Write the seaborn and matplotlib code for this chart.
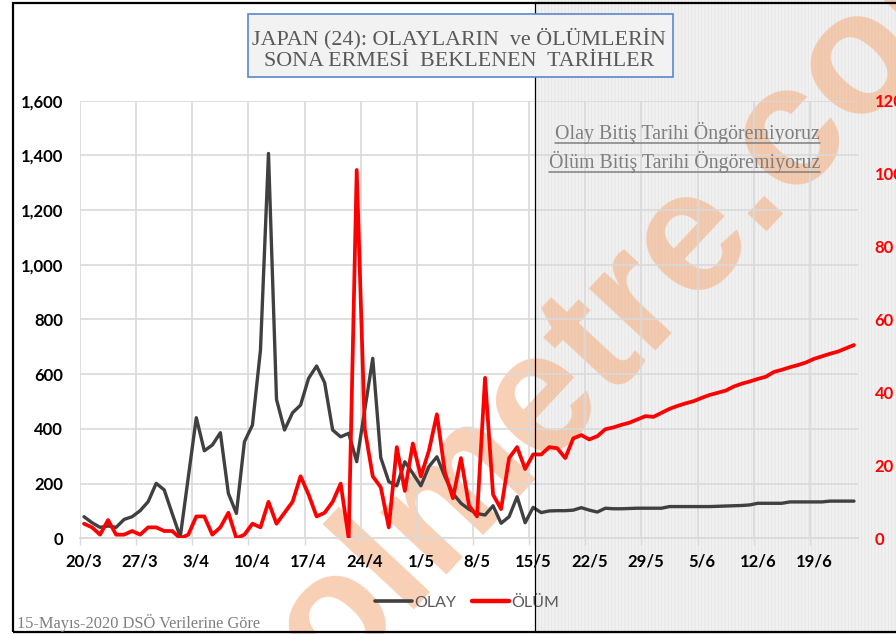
import matplotlib
matplotlib.use("Agg")
import matplotlib.pyplot as plt
import seaborn as sns
import numpy as np
import pandas as pd
from matplotlib.patches import Rectangle
from matplotlib.lines import Line2D

# ---------------- data ----------------
olay = [79, 57, 40, 45, 40, 69, 79, 101, 134, 201,
        177, 90, 5, 223, 441, 320, 341, 386, 164, 91,
        353, 414, 688, 1407, 508, 396, 459, 487, 585, 630,
        569, 396, 371, 384, 280, 469, 658, 295, 207, 192,
        280, 237, 192, 262, 298, 225, 164, 128, 106, 91,
        85, 119, 55, 79, 152, 57, 113, 94, 100, 101,
        101, 103, 112, 103, 96, 110, 108, 108, 109, 110,
        110, 110, 110, 116, 116, 116, 116, 116, 116, 117,
        118, 119, 120, 122, 128, 128, 128, 128, 133, 133,
        133, 133, 133, 136, 136, 136, 136]
olum = [4, 3, 1, 5, 1, 1, 2, 1, 3, 3,
        2, 2, 0, 1, 6, 6, 1, 3, 7, 0,
        1, 4, 3, 10, 4, 7, 10, 17, 12, 6,
        7, 10, 15, 0, 101, 30, 17, 14, 3, 25,
        13, 26, 17, 24, 34, 18, 11, 22, 9, 6,
        44, 12, 8, 22, 25, 19, 23, 23, 25, 24.7,
        22, 27.4, 28.3, 27.1, 28, 29.9, 30.4, 31.1, 31.7, 32.6,
        33.5, 33.3, 34.4, 35.5, 36.3, 37, 37.6, 38.5, 39.3, 39.9,
        40.5, 41.6, 42.4, 43, 43.7, 44.3, 45.6, 46.2, 46.9, 47.5,
        48.2, 49.2, 49.9, 50.6, 51.2, 52.1, 53]
week_labels = ["20/3", "27/3", "3/4", "10/4", "17/4", "24/4", "1/5", "8/5",
               "15/5", "22/5", "29/5", "5/6", "12/6", "19/6"]
left_ticks = [0, 200, 400, 600, 800, 1000, 1200, 1400, 1600]
right_ticks = [0, 20, 40, 60, 80, 100, 120]
title_lines = ["JAPAN (24): OLAYLARIN  ve ÖLÜMLERİN", "SONA ERMESİ  BEKLENEN  TARİHLER"]
note_lines = ["Olay Bitiş Tarihi Öngöremiyoruz", "Ölüm Bitiş Tarihi Öngöremiyoruz"]
source_text = "15-Mayıs-2020 DSÖ Verilerine Göre"
watermark = "olmetre.com"

df = pd.DataFrame({"day": np.arange(len(olay)), "OLAY": olay, "ÖLÜM": olum})

sns.set_theme(style="white")
plt.rcParams['font.family'] = ['Lato', 'DejaVu Sans']
plt.rcParams['hatch.linewidth'] = 0.6

W, H = 896, 634
fig = plt.figure(figsize=(W / 100, H / 100), dpi=100)
fig.patch.set_facecolor('white')

def fx(x):
    return x / W

def fy(y):
    return 1 - y / H

# shaded forecast region
fig.patches.append(Rectangle((fx(535), 0), 1 - fx(535), 1, transform=fig.transFigure,
                             facecolor='#f1f1f1', edgecolor='#e4e4e4', hatch='|||||', lw=0,
                             zorder=-10))

# watermark
fig.text(fx(333), fy(690), watermark, rotation=47, rotation_mode='anchor',
         ha='left', va='baseline', fontsize=124, fontweight='bold', family='Liberation Sans',
         color='#f4b084', alpha=0.6, zorder=-5)

# axes
ax = fig.add_axes([fx(80), fy(538.3), (858 - 80) / W, (538.3 - 100.7) / H])
ax.patch.set_alpha(0)
sns.lineplot(data=df, x="day", y="OLAY", ax=ax, color='#404040', lw=2.4, legend=False)
ax2 = ax.twinx()
sns.lineplot(data=df, x="day", y="ÖLÜM", ax=ax2, color='#ff0000', lw=2.7, legend=False)

ax.set_xlim(-0.5, len(olay) - 0.5)
ax.set_ylim(0, 1600)
ax2.set_ylim(0, 120)
ax.set_xlabel("")
ax.set_ylabel("")
ax2.set_ylabel("")

ax.set_xticks(np.arange(-0.5, len(olay) - 1, 7))
ax.set_xticklabels([])
ax.set_xticks(np.arange(0, 7 * len(week_labels), 7), minor=True)
ax.set_xticklabels(week_labels, minor=True, fontweight='bold', fontsize=12, color='black')
ax.tick_params(axis='x', which='major', length=5, width=1, color='#d9d9d9', direction='out', bottom=True)
ax.tick_params(axis='x', which='minor', length=0, pad=11)

ax.set_yticks(left_ticks)
ax.set_yticklabels([f"{v:,}" for v in left_ticks], fontweight='bold', fontsize=12, color='black')
ax.tick_params(axis='y', length=0, pad=12)
ax2.set_yticks(right_ticks)
ax2.set_yticklabels([str(v) for v in right_ticks], fontweight='bold', fontsize=12, color='#ff0000')
ax2.tick_params(axis='y', length=0, pad=12)

ax.grid(True, which='major', color='#d9d9d9', lw=1.2)
ax.set_axisbelow(True)
ax2.grid(False)
for sp in ax.spines.values():
    sp.set_visible(False)
for sp in ax2.spines.values():
    sp.set_visible(False)
ax.spines['bottom'].set_visible(True)
ax.spines['bottom'].set_color('#d9d9d9')

# legend
handles = [Line2D([], [], color='#404040', lw=2.6), Line2D([], [], color='#ff0000', lw=3.2)]
fig.legend(handles, ["OLAY", "ÖLÜM"], loc='center', bbox_to_anchor=(fx(467), fy(603)),
           ncol=2, frameon=False, fontsize=11.5, handlelength=2.3, handletextpad=0.15,
           columnspacing=1.0, labelcolor='#595959')

# outer frame and divider
fig.patches.append(Rectangle((fx(13), fy(632)), 1.2, fy(3) - fy(632), transform=fig.transFigure,
                             fill=False, edgecolor='black', lw=1.6, zorder=20))
fig.lines.append(Line2D([fx(535), fx(535)], [fy(632), fy(3)], transform=fig.transFigure,
                        color='black', lw=0.9, zorder=20))

# title box
fig.patches.append(Rectangle((fx(248), fy(77)), (673 - 248) / W, (77 - 14) / H,
                             transform=fig.transFigure, facecolor='#f2f2f2',
                             edgecolor='#5b86cf', lw=1.2, zorder=25))
fig.text(fx(459), fy(39), title_lines[0], ha='center', va='center', family='Liberation Serif',
         fontsize=15.8, color='#595959', zorder=26)
fig.text(fx(459), fy(62), title_lines[1], ha='center', va='center', family='Liberation Serif',
         fontsize=15.8, color='#595959', zorder=26)

# notes
notes = []
notes.append(fig.text(fx(820), fy(139), note_lines[0], ha='right', va='baseline',
                      family='Liberation Serif', fontsize=14.3, color='#7f7f7f', zorder=26))
notes.append(fig.text(fx(820), fy(168), note_lines[1], ha='right', va='baseline',
                      family='Liberation Serif', fontsize=14.3, color='#7f7f7f', zorder=26))
fig.text(fx(17), fy(628), source_text, ha='left', va='baseline', family='Liberation Serif',
         fontsize=11.8, color='#7f7f7f', zorder=26)

fig.canvas.draw()
inv = fig.transFigure.inverted()
for t, uy in zip(notes, [143, 172]):
    bb = t.get_window_extent().transformed(inv)
    fig.lines.append(Line2D([bb.x0, bb.x1], [fy(uy), fy(uy)], transform=fig.transFigure,
                            color='#7f7f7f', lw=1.1, zorder=26))

fig.savefig("out.png", dpi=100)
